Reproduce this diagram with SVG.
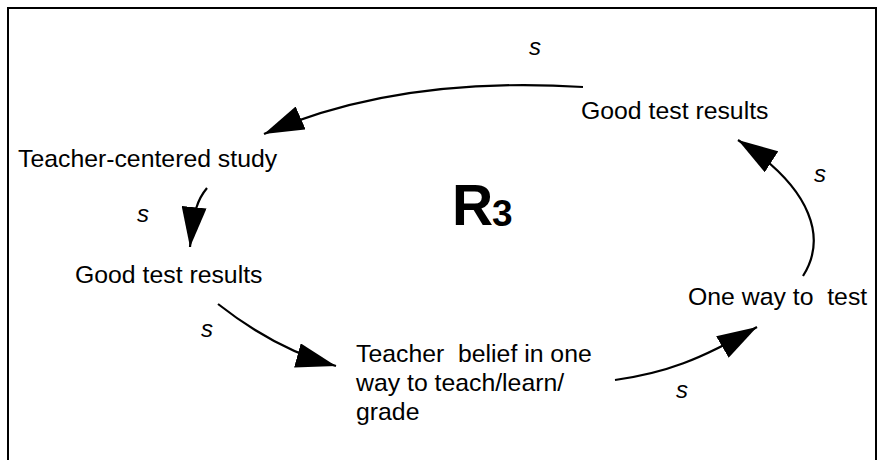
<svg xmlns="http://www.w3.org/2000/svg" width="882" height="460" viewBox="0 0 882 460">
<style>
  .lbl { font-family: "Liberation Sans", Arial, sans-serif; font-size: 24.8px; fill: #000; white-space: pre; }
  .pol { font-family: "Liberation Sans", Arial, sans-serif; font-size: 24px; font-style: italic; fill: #000; }
  .conn { fill: none; stroke: #000; stroke-width: 2.2; marker-end: url(#head); }
  .frame { fill: none; stroke: #000; stroke-width: 2; }
  .big { font-family: "Liberation Sans", Arial, sans-serif; font-weight: bold; fill: #000; }
</style>
<defs>
  <marker id="head" viewBox="0 0 40 25" refX="40" refY="12.5" markerWidth="40" markerHeight="25" markerUnits="userSpaceOnUse" orient="auto">
    <path d="M0,0 L40,12.5 L0,25 Z" fill="#000"/>
  </marker>
</defs>
<rect width="882" height="460" fill="#fff"/>
<rect class="frame" x="8" y="8" width="868" height="470"/>

<g id="connectors">
  <path class="conn" d="M583,87 C470,80 360,92 264,134"/>
  <path class="conn" d="M207,188 C198,199 194,208 190,247"/>
  <path class="conn" d="M218,304 C246,326 285,352 336,366"/>
  <path class="conn" d="M615,380 C665,373 700,360 757,327"/>
  <path class="conn" d="M803,276 C826,240 815,190 738,140"/>
  <text class="pol" x="529" y="55">s</text>
  <text class="pol" x="137" y="222">s</text>
  <text class="pol" x="201" y="337">s</text>
  <text class="pol" x="676" y="398">s</text>
  <text class="pol" x="814" y="182">s</text>
</g>

<g id="node-good-test-top">
  <text class="lbl" x="581" y="119">Good test results</text>
</g>
<g id="node-teacher-centered">
  <text class="lbl" x="18" y="166.5">Teacher-centered study</text>
</g>
<g id="node-good-test-left">
  <text class="lbl" x="75" y="283">Good test results</text>
</g>
<g id="node-teacher-belief">
  <text class="lbl" x="356" y="362">Teacher  belief in one</text>
  <text class="lbl" x="356" y="391">way to teach/learn/</text>
  <text class="lbl" x="356" y="420">grade</text>
</g>
<g id="node-one-way">
  <text class="lbl" x="688" y="305">One way to  test</text>
</g>

<g id="loop-label">
  <text class="big" x="452" y="225" font-size="57">R</text>
  <text class="big" x="492" y="226" font-size="37">3</text>
</g>
</svg>
